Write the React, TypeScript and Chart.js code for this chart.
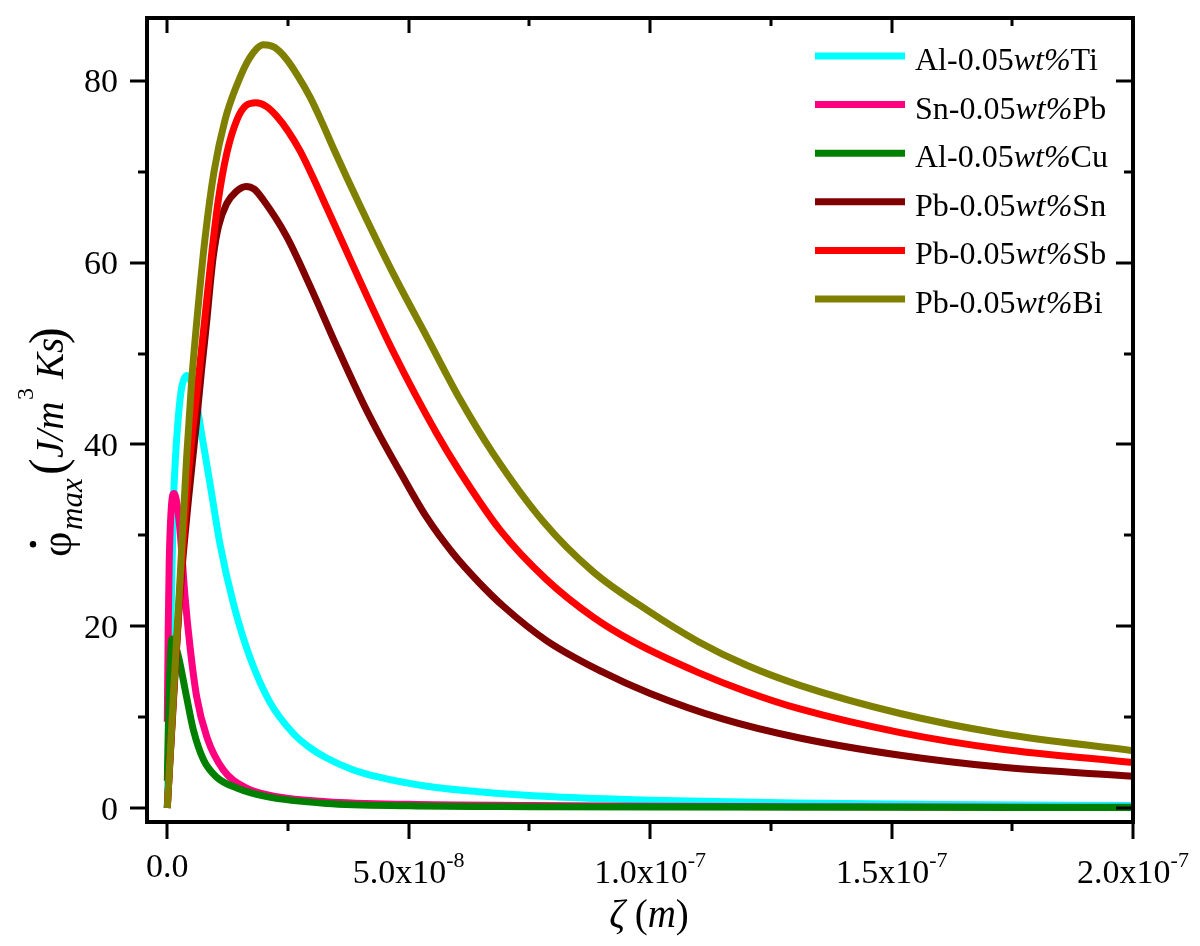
import React, { useEffect, useRef } from "react";
import { Chart, registerables } from "chart.js";

Chart.register(...registerables);

const NM = 1e-9;

// Al-0.05wt%Ti (cyan)
const tiX = [0, 0.5, 1.0, 1.3, 1.6, 2.3, 3.0, 4.0, 5.0, 5.7, 7.1, 8.85, 10.9, 13.7, 17.1, 21.3, 26.1, 29.5, 33.0, 38.0, 43.4, 53.7, 64.4, 80, 100, 130, 160, 200];
const tiY = [0, 13, 27, 34, 37.6, 43.1, 46.3, 47.6, 46.8, 45.6, 41.2, 35.7, 29.1, 22.5, 16.6, 11.6, 8.2, 6.65, 5.5, 4.3, 3.45, 2.4, 1.8, 1.24, 0.86, 0.54, 0.39, 0.27];

// Sn-0.05wt%Pb (pink)
const pbX = [0, 0.2, 0.4, 0.9, 1.4, 2.0, 2.63, 3.67, 4.7, 6.1, 8.2, 11.6, 16.4, 22.7, 33, 50, 75, 100, 130, 160, 200];
const pbY = [9.5, 20, 27, 33.5, 34.6, 33.5, 30.6, 23.3, 17.8, 12.2, 7.8, 4.2, 2.2, 1.25, 0.7, 0.4, 0.28, 0.2, 0.15, 0.1, 0.08];

// Al-0.05wt%Cu (green)
const cuX = [0, 0.3, 0.6, 0.95, 1.3, 2.0, 2.63, 4.0, 5.4, 7.5, 10.2, 14.4, 20.6, 33, 50, 75, 100, 150, 200];
const cuY = [3, 11, 16, 18.6, 18.4, 17.3, 15.9, 12.2, 8.6, 5.3, 3.4, 2.2, 1.25, 0.5, 0.25, 0.15, 0.1, 0.07, 0.05];

// Pb-0.05wt%Sn (dark red)
const snX = [0, 1.3, 2.7, 4.4, 6.1, 7.1, 8.2, 8.85, 9.5, 10.6, 12.3, 14.2, 16.3, 18.0, 19.9, 24.7, 29.6, 35.1, 40.6, 44.1, 48.2, 53.7, 59.2, 64.4, 69.6, 78.6, 90, 100, 115, 131, 151.8, 172.5, 200];
const snY = [0, 12, 24, 34, 42.7, 48.2, 53.7, 57.4, 60.6, 64.0, 66.5, 67.8, 68.4, 68.1, 66.9, 62.9, 57.4, 50.8, 44.5, 40.9, 37.0, 32.0, 28.0, 24.9, 22.2, 18.4, 15.0, 12.6, 9.8, 7.7, 5.8, 4.5, 3.5];

// Pb-0.05wt%Sb (red)
const sbX = [0, 1.3, 2.7, 4.0, 5.2, 6.4, 7.8, 9.2, 10.6, 12.3, 14.4, 16.3, 18.4, 20.5, 22.7, 25.0, 27.5, 30.0, 33.0, 36.5, 39.9, 46.8, 55.8, 60.6, 68.9, 78.6, 88.2, 96.5, 110, 120, 131, 151.8, 172.5, 200];
const sbY = [0, 12.5, 24.5, 34.5, 41.2, 47.0, 54.0, 61.0, 67.0, 72.0, 75.7, 77.3, 77.6, 77.2, 76.1, 74.5, 72.3, 69.6, 66.1, 62.0, 58.0, 50.2, 41.2, 37.0, 30.6, 25.1, 21.0, 18.3, 14.9, 12.8, 10.9, 8.3, 6.5, 5.0];

// Pb-0.05wt%Bi (olive)
const biX = [0, 1.25, 2.63, 4.0, 5.05, 6.4, 7.8, 9.67, 11.95, 14.3, 17.0, 19.9, 22.2, 24.7, 27.0, 29.6, 32.0, 34.4, 39.9, 46.8, 53.7, 60.6, 67.5, 77.9, 88.2, 99.3, 110, 120, 131, 151.8, 172.5, 200];
const biY = [0, 12.2, 25.1, 38.5, 47.0, 55.2, 62.6, 70.0, 75.7, 79.4, 82.5, 84.0, 83.7, 82.4, 80.6, 78.2, 75.5, 72.6, 66.3, 58.8, 51.9, 45.0, 39.0, 31.5, 26.0, 21.8, 18.3, 15.7, 13.5, 10.4, 8.2, 6.3];

const seriesXs = [tiX, pbX, cuX, snX, sbX, biX];
const seriesYs = [tiY, pbY, cuY, snY, sbY, biY];
const seriesColors = ["#00FFFF", "#FF0080", "#008000", "#800000", "#FF0000", "#808000"];
const legendPrefix = ["Al-0.05", "Sn-0.05", "Al-0.05", "Pb-0.05", "Pb-0.05", "Pb-0.05"];
const legendItalic = "wt%";
const legendSuffix = ["Ti", "Pb", "Cu", "Sn", "Sb", "Bi"];

const xMajorTicks = [0, 5e-8, 1e-7, 1.5e-7, 2e-7];
const xTickMantissa = ["0.0", "5.0x10", "1.0x10", "1.5x10", "2.0x10"];
const xTickExponent = ["", "-8", "-7", "-7", "-7"];
const xMinorTicks = [2.5e-8, 7.5e-8, 1.25e-7, 1.75e-7];
const yMajorTicks = [0, 20, 40, 60, 80];
const yMinorTicks = [10, 30, 50, 70];

const SERIF = "'Liberation Serif', 'Times New Roman', serif";

const decorPlugin = {
  id: "decor",
  afterDraw(chart: any) {
    const ctx: CanvasRenderingContext2D = chart.ctx;
    const { left, right, top, bottom } = chart.chartArea;
    const xs = chart.scales.x;
    const ys = chart.scales.y;
    ctx.save();
    ctx.fillStyle = "#000";
    ctx.strokeStyle = "#000";

    // frame
    ctx.lineWidth = 4;
    ctx.strokeRect(left, top, right - left, bottom - top);

    // ticks
    ctx.lineWidth = 3;
    ctx.beginPath();
    yMajorTicks.forEach((v) => {
      const p = Math.round(ys.getPixelForValue(v));
      ctx.moveTo(left - 17, p); ctx.lineTo(left, p);
      ctx.moveTo(right, p); ctx.lineTo(right - 17, p);
    });
    yMinorTicks.forEach((v) => {
      const p = Math.round(ys.getPixelForValue(v));
      ctx.moveTo(left - 9, p); ctx.lineTo(left, p);
      ctx.moveTo(right, p); ctx.lineTo(right - 9, p);
    });
    xMajorTicks.forEach((v) => {
      const p = Math.round(xs.getPixelForValue(v));
      ctx.moveTo(p, bottom); ctx.lineTo(p, bottom + 17);
      ctx.moveTo(p, top); ctx.lineTo(p, top + 15);
    });
    xMinorTicks.forEach((v) => {
      const p = Math.round(xs.getPixelForValue(v));
      ctx.moveTo(p, bottom); ctx.lineTo(p, bottom + 9);
      ctx.moveTo(p, top); ctx.lineTo(p, top + 8);
    });
    ctx.stroke();

    // y tick labels
    ctx.font = `34px ${SERIF}`;
    ctx.textAlign = "right";
    ctx.textBaseline = "alphabetic";
    yMajorTicks.forEach((v) => {
      const p = ys.getPixelForValue(v);
      ctx.fillText(String(v), left - 29, p + 11.5);
    });

    // x tick labels
    ctx.textAlign = "left";
    xMajorTicks.forEach((v, i) => {
      const p = xs.getPixelForValue(v);
      const m = xTickMantissa[i];
      const e = xTickExponent[i];
      ctx.font = `34px ${SERIF}`;
      const w1 = ctx.measureText(m).width;
      if (!e) {
        ctx.fillText(m, p - w1 / 2, bottom + 55);
      } else {
        ctx.font = `22px ${SERIF}`;
        const w2 = ctx.measureText(e).width;
        const x0 = p - (w1 + w2) / 2;
        ctx.font = `34px ${SERIF}`;
        ctx.fillText(m, x0, bottom + 61);
        ctx.font = `22px ${SERIF}`;
        ctx.fillText(e, x0 + w1, bottom + 45);
      }
    });

    // x title: ζ (m)
    const xParts = [
      { t: "\u03B6", f: `italic 39px ${SERIF}` },
      { t: " (", f: `39px ${SERIF}` },
      { t: "m", f: `italic 39px ${SERIF}` },
      { t: ")", f: `39px ${SERIF}` },
    ];
    let tw = 0;
    xParts.forEach((p) => { ctx.font = p.f; tw += ctx.measureText(p.t).width; });
    let cx = 649 - tw / 2;
    xParts.forEach((p) => {
      ctx.font = p.f;
      ctx.fillText(p.t, cx, 927);
      cx += ctx.measureText(p.t).width;
    });

    // y title: φ̇_max (J/m^3 Ks) — rotated, each part starts at a page y
    const yParts = [
      { t: "\u03C6", f: `44px ${SERIF}`, dy: 8, y0: 557, dot: true },
      { t: "max", f: `italic 31px ${SERIF}`, dy: 19, y0: 530 },
      { t: "(", f: `50px ${SERIF}`, dy: 1, y0: 475 },
      { t: "J/m", f: `italic 39px ${SERIF}`, dy: 0, y0: 458 },
      { t: "3", f: `24px ${SERIF}`, dy: -30, y0: 400 },
      { t: "Ks", f: `italic 39px ${SERIF}`, dy: 0, y0: 379 },
      { t: ")", f: `50px ${SERIF}`, dy: 1, y0: 344 },
    ];
    ctx.save();
    ctx.translate(63, 0);
    ctx.rotate(-Math.PI / 2);
    yParts.forEach((p: any) => {
      ctx.font = p.f;
      const w = ctx.measureText(p.t).width;
      ctx.fillText(p.t, -p.y0, p.dy);
      if (p.dot) {
        ctx.beginPath();
        ctx.arc(-p.y0 + w / 2, -30, 3.2, 0, Math.PI * 2);
        ctx.fill();
      }
    });
    ctx.restore();

    // legend
    for (let i = 0; i < seriesColors.length; i++) {
      const ly = 56 + i * 48.6;
      ctx.strokeStyle = seriesColors[i];
      ctx.lineWidth = 7;
      ctx.beginPath();
      ctx.moveTo(815, ly);
      ctx.lineTo(905, ly);
      ctx.stroke();
      let lx = 915;
      const parts = [
        { t: legendPrefix[i], f: `32px ${SERIF}` },
        { t: legendItalic, f: `italic 32px ${SERIF}` },
        { t: legendSuffix[i], f: `32px ${SERIF}` },
      ];
      parts.forEach((p) => {
        ctx.font = p.f;
        ctx.fillText(p.t, lx, ly + 14);
        lx += ctx.measureText(p.t).width;
      });
    }
    ctx.restore();
  },
};

export default function App() {
  const ref = useRef<HTMLCanvasElement | null>(null);
  useEffect(() => {
    if (!ref.current) return;
    const datasets = seriesXs.map((xsArr, i) => ({
      label: legendPrefix[i] + legendItalic + legendSuffix[i],
      data: xsArr.map((x, j) => ({ x: x * NM, y: seriesYs[i][j] })),
      borderColor: seriesColors[i],
      backgroundColor: seriesColors[i],
      borderWidth: 7,
      pointRadius: 0,
      fill: false,
      cubicInterpolationMode: "monotone" as const,
      order: seriesColors.length - i,
    }));
    const chart = new Chart(ref.current, {
      type: "line",
      data: { datasets },
      options: {
        animation: false,
        responsive: false,
        maintainAspectRatio: false,
        devicePixelRatio: 1,
        layout: { padding: { left: 147, top: 18, right: 67, bottom: 124 } },
        plugins: { legend: { display: false }, tooltip: { enabled: false }, title: { display: false } },
        scales: {
          x: { type: "linear", min: -4.2e-9, max: 2e-7, display: false },
          y: { type: "linear", min: -1.54, max: 86.93, display: false },
        },
      },
      plugins: [decorPlugin],
    });
    return () => chart.destroy();
  }, []);
  return (
    <div style={{ position: "absolute", left: 0, top: 0, width: 1200, height: 946, background: "#fff" }}>
      <canvas ref={ref} width={1200} height={946} style={{ display: "block", width: 1200, height: 946 }} />
    </div>
  );
}
